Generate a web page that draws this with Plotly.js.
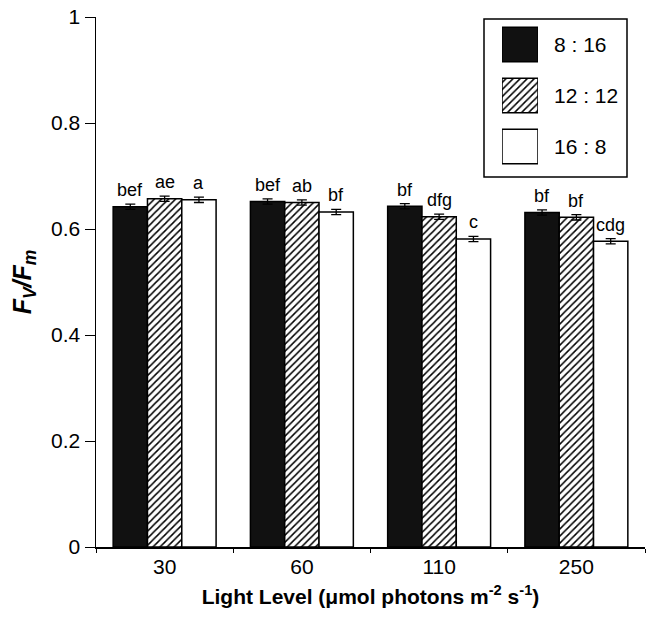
<!DOCTYPE html>
<html>
<head>
<meta charset="utf-8">
<script src="https://cdn.plot.ly/plotly-3.0.1.min.js"></script>
<style>html,body{margin:0;padding:0;background:#fff;}#chart{width:646px;height:617px;}</style>
</head>
<body>
<div id="chart"></div>
<script>
const categories = ['30', '60', '110', '250'];
const seriesNames = ['8 : 16', '12 : 12', '16 : 8'];
const val_8_16 = [0.642, 0.652, 0.643, 0.631];
const val_12_12 = [0.657, 0.650, 0.623, 0.622];
const val_16_8 = [0.655, 0.632, 0.581, 0.577];
const err_8_16 = [0.005, 0.005, 0.005, 0.005];
const err_12_12 = [0.005, 0.005, 0.005, 0.005];
const err_16_8 = [0.005, 0.005, 0.005, 0.005];
const lbl_8_16 = ['bef', 'bef', 'bf', 'bf'];
const lbl_12_12 = ['ae', 'ab', 'dfg', 'bf'];
const lbl_16_8 = ['a', 'bf', 'c', 'cdg'];
const yTicks = [0, 0.2, 0.4, 0.6, 0.8, 1];

const FONT = 'Liberation Sans, Arial, sans-serif';
const styles = [
  {color: '#111111', pattern: {shape: ''}},
  {color: '#ffffff', pattern: {shape: '/', fgcolor: '#000', bgcolor: '#fff', size: 5, solidity: 0.3, fillmode: 'replace'}},
  {color: '#ffffff', pattern: {shape: ''}}
];
const vals = [val_8_16, val_12_12, val_16_8];
const errs = [err_8_16, err_12_12, err_16_8];
const lbls = [lbl_8_16, lbl_12_12, lbl_16_8];

const traces = [];
const annotations = [];
vals.forEach((v, i) => {
  traces.push({
    type: 'bar', x: categories, y: v, name: seriesNames[i],
    marker: {color: styles[i].color, pattern: styles[i].pattern, line: {color: '#000', width: 1.5}},
    error_y: {type: 'data', array: errs[i], visible: true, color: '#000', thickness: 1.3, width: 5},
    showlegend: false, xaxis: 'x', yaxis: 'y'
  });
  v.forEach((y, j) => {
    annotations.push({
      x: j + (i - 1) * 0.25, y: y + errs[i][j], xref: 'x', yref: 'y',
      text: lbls[i][j], showarrow: false, yanchor: 'bottom', yshift: 2,
      font: {family: FONT, size: 18, color: '#000'}
    });
  });
});

// legend swatches drawn as bars on a small dedicated subplot
const legY = [0, 1, 2];
seriesNames.forEach((n, i) => {
  traces.push({
    type: 'bar', orientation: 'h', x: [1], y: [legY[i]], width: [0.68],
    marker: {color: styles[i].color, pattern: styles[i].pattern, line: {color: '#000', width: 1.5}},
    xaxis: 'x2', yaxis: 'y2', showlegend: false, hoverinfo: 'skip'
  });
  annotations.push({
    x: 1, y: legY[i], xref: 'x2', yref: 'y2', text: n, showarrow: false,
    xanchor: 'left', xshift: 14, font: {family: FONT, size: 21, color: '#000'}
  });
});

const W = 646, H = 617;
const mL = 96, mR = 1, mT = 17, mB = 70;
const pw = W - mL - mR, ph = H - mT - mB;
const px2x = p => (p - mL) / pw;
const px2y = p => (H - mB - p) / ph;

const layout = {
  width: W, height: H,
  margin: {l: mL, r: mR, t: mT, b: mB},
  paper_bgcolor: '#fff', plot_bgcolor: 'rgba(0,0,0,0)',
  barmode: 'group', bargap: 0.25, bargroupgap: 0,
  font: {family: FONT, color: '#000'},
  xaxis: {
    type: 'category', range: [-0.5, 3.5], tickson: 'boundaries',
    ticks: 'outside', ticklen: 4, tickcolor: '#000', tickwidth: 1,
    showline: true, linecolor: '#000', linewidth: 1.5, showgrid: false, zeroline: false,
    tickfont: {family: FONT, size: 21, color: '#000'},
    title: {text: '<b>Light Level (μmol photons m<sup>-2</sup> s<sup>-1</sup>)</b>', font: {family: FONT, size: 21}, standoff: 12},
    fixedrange: true
  },
  yaxis: {
    range: [0, 1], tickvals: yTicks, ticktext: yTicks.map(String),
    ticks: 'outside', ticklen: 10, tickcolor: '#000', tickwidth: 1,
    showline: true, linecolor: '#000', linewidth: 1.5, showgrid: false, zeroline: false,
    tickfont: {family: FONT, size: 21, color: '#000'},
    title: {text: '<b><i>F<sub>V</sub>/F<sub>m</sub></i></b>', font: {family: FONT, size: 25}, standoff: 12},
    fixedrange: true
  },
  xaxis2: {domain: [px2x(502), px2x(538)], range: [0, 1], anchor: 'y2', visible: false, fixedrange: true},
  yaxis2: {domain: [px2y(172), px2y(19)], range: [2.5, -0.5], anchor: 'x2', visible: false, fixedrange: true},
  shapes: [{
    type: 'rect', xref: 'paper', yref: 'paper',
    x0: px2x(484), x1: px2x(627), y0: px2y(177), y1: px2y(19),
    line: {color: '#000', width: 1.5}, fillcolor: 'rgba(0,0,0,0)', layer: 'below'
  }],
  annotations: annotations
};

Plotly.newPlot('chart', traces, layout, {displayModeBar: false, staticPlot: true});
</script>
</body>
</html>
